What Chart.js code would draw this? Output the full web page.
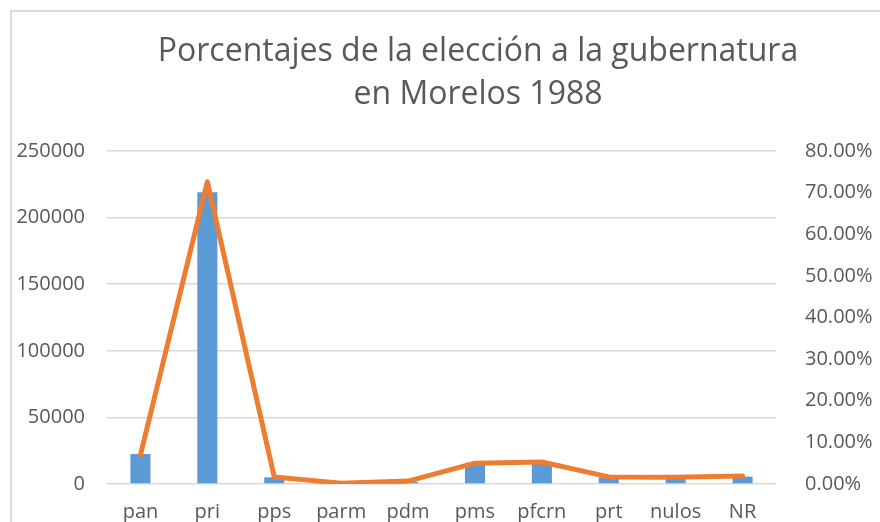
<!DOCTYPE html>
<html>
<head>
<meta charset="utf-8">
<script src="https://cdn.jsdelivr.net/npm/chart.js@4/dist/chart.umd.min.js"></script>
<style>
  html, body { margin: 0; padding: 0; background: #fff; overflow: hidden; }
  #wrap { position: absolute; left: 0; top: 0; width: 880px; height: 522px; }
  #frame { position: absolute; left: 10px; top: 10px; width: 900px; height: 540px;
           border-left: 2px solid #dcdcdc; border-top: 2px solid #dcdcdc; pointer-events: none; }
</style>
</head>
<body>
<div id="wrap"><canvas id="c" width="880" height="522"></canvas></div>
<div id="frame"></div>
<script>
const categories = ['pan', 'pri', 'pps', 'parm', 'pdm', 'pms', 'pfcrn', 'prt', 'nulos', 'NR'];
const votes = [22500, 219000, 5000, 300, 1500, 16000, 16500, 5000, 4500, 5500];
const percentages = [0.070, 0.726, 0.017, 0.002, 0.007, 0.050, 0.053, 0.017, 0.016, 0.019];
const leftTicks = [0, 50000, 100000, 150000, 200000, 250000];
const rightTicks = [0, 0.1, 0.2, 0.3, 0.4, 0.5, 0.6, 0.7, 0.8];
const titleLines = ['Porcentajes de la elección a la gubernatura', 'en Morelos 1988'];

const textColor = '#595959';
const fontFamily = '"Open Sans", "Liberation Sans", sans-serif';

const titlePlugin = {
  id: 'offsetTitle',
  afterDraw(chart) {
    const ctx = chart.ctx;
    ctx.save();
    ctx.fillStyle = textColor;
    ctx.font = '32px ' + fontFamily;
    ctx.textAlign = 'center';
    ctx.textBaseline = 'middle';
    titleLines.forEach((t, i) => ctx.fillText(t, 478, 52 + i * 43));
    ctx.restore();
  }
};

new Chart(document.getElementById('c'), {
  data: {
    labels: categories,
    datasets: [
      {
        type: 'line',
        data: percentages,
        yAxisID: 'y1',
        borderColor: '#ED7D31',
        borderWidth: 5,
        pointRadius: 0,
        tension: 0,
        borderCapStyle: 'round',
        borderJoinStyle: 'round',
        order: 0
      },
      {
        type: 'bar',
        data: votes,
        yAxisID: 'y',
        backgroundColor: '#5B9BD5',
        barPercentage: 0.3,
        categoryPercentage: 1,
        order: 1
      }
    ]
  },
  plugins: [titlePlugin],
  options: {
    responsive: false,
    animation: false,
    devicePixelRatio: 1,
    layout: { padding: { top: 151, right: 0, bottom: 0, left: 0 } },
    plugins: {
      legend: { display: false },
      tooltip: { enabled: false },
      title: { display: false }
    },
    scales: {
      x: {
        grid: { display: false },
        border: { display: false },
        ticks: { color: textColor, font: { family: fontFamily, size: 20 }, padding: 8, maxRotation: 0 },
        afterFit: s => { s.height = 38; }
      },
      y: {
        position: 'left',
        min: 0, max: 250000,
        afterBuildTicks: s => { s.ticks = leftTicks.map(v => ({ value: v })); },
        grid: { color: '#d9d9d9', lineWidth: 1.5, drawTicks: false },
        border: { display: false },
        ticks: { color: textColor, font: { family: fontFamily, size: 20 }, padding: 22,
                 callback: v => String(v) },
        afterFit: s => { s.width = 107; }
      },
      y1: {
        position: 'right',
        min: 0, max: 0.8,
        afterBuildTicks: s => { s.ticks = rightTicks.map(v => ({ value: v })); },
        grid: { display: false },
        border: { display: false },
        ticks: { color: textColor, font: { family: fontFamily, size: 20 }, padding: 21,
                 callback: v => (v * 100).toFixed(2) + '%' },
        afterFit: s => { s.width = 104; }
      }
    }
  }
});
</script>
</body>
</html>
